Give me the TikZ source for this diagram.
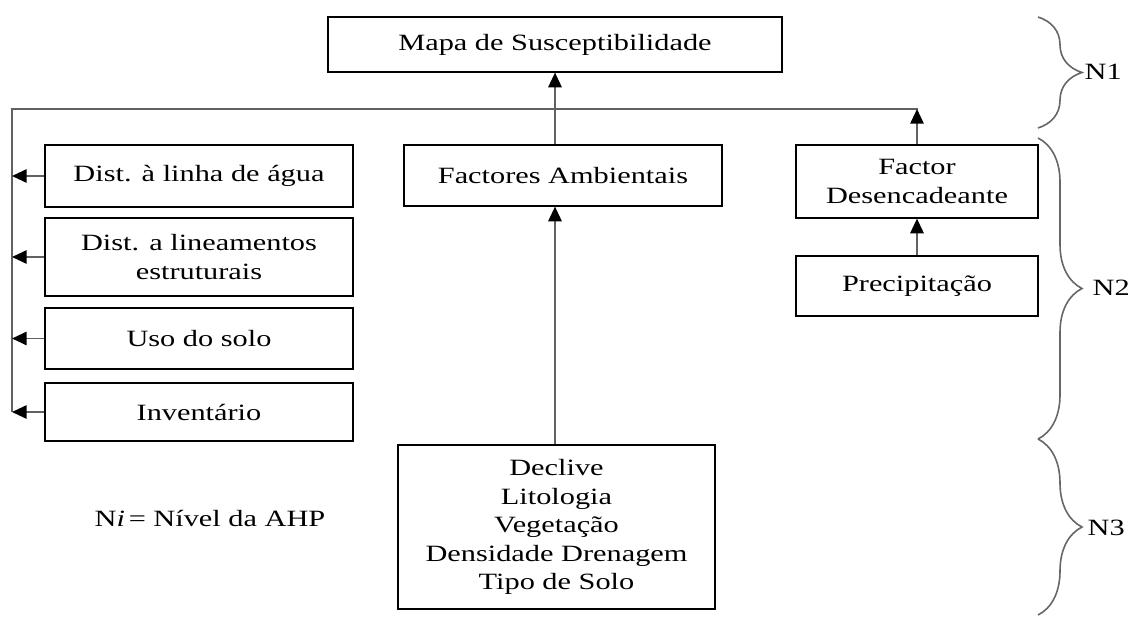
\documentclass[tikz,border=0pt]{standalone}
\usepackage{fontspec}
\setmainfont{Liberation Serif}[FakeStretch=1.3]
\usetikzlibrary{arrows.meta,decorations.pathreplacing}

\begin{document}
\begin{tikzpicture}[x=0.75pt, y=-0.75pt,
  font=\fontsize{17.5}{21.4}\selectfont,
  box/.style={draw, line width=0.9pt, inner sep=0pt, align=center},
  conn/.style={draw=black!62, line width=1.4pt, -{Triangle[length=11pt,width=10pt,color=black]}},
  bus/.style={draw=black!62, line width=1.4pt},
  brace/.style={draw=black!60, line width=1.2pt, decorate, decoration={brace, amplitude=33pt}}]
\useasboundingbox (0,0) rectangle (1132,617);

% level 1
\node[box, minimum width=340.5pt, minimum height=41.25pt] (mapa) at (555,44.5) {Mapa de Susceptibilidade};

% level 2
\node[box, minimum width=238.5pt, minimum height=45.75pt] (fact_amb) at (563,175.5) {Factores Ambientais};
\node[box, minimum width=181.5pt, minimum height=54.75pt] (fact_des) at (917,181.5) {Factor\\Desencadeante};
\node[box, minimum width=181.5pt, minimum height=45pt] (precip) at (917,286) {Precipitação};

\node[box, minimum width=231pt, minimum height=46.5pt] (dist_agua) at (199,176) {Dist. à linha de água};
\node[box, minimum width=231pt, minimum height=58.5pt] (dist_lin) at (199,257) {Dist. a lineamentos\\estruturais};
\node[box, minimum width=231pt, minimum height=45.75pt] (uso) at (199,338.5) {Uso do solo};
\node[box, minimum width=231pt, minimum height=43.5pt] (invent) at (199,412) {Inventário};

% level 3
\node[box, minimum width=237.75pt, minimum height=123pt] (declive) at (556.5,527)
  {Declive\\Litologia\\Vegetação\\Densidade Drenagem\\Tipo de Solo};

\node (legenda) at (210,518) {N\textit{i}\,= Nível da AHP};

% connectors
\coordinate (bus_l) at (12,109);
\coordinate (bus_r) at (918,109);
\draw[bus] (bus_r) -- (bus_l) -- (bus_l |- invent.west);
\foreach \n in {dist_agua,dist_lin,uso,invent}
  \draw[conn] (\n.west) -- (\n.west -| bus_l);
\draw[conn] (fact_des.north) -- (fact_des.north |- bus_r);
\draw[conn] (precip.north) -- (fact_des.south);
\draw[conn] (fact_amb.north -| mapa.south) -- (mapa.south);
\draw[conn] (declive.north -| mapa.south) -- (fact_amb.south -| mapa.south);

% levels
\draw[brace] (1038,17) -- (1038,128);
\draw[brace] (1038,138) -- (1038,439);
\draw[brace] (1038,439) -- (1038,615);
\node[anchor=west, inner sep=1pt] (n1) at (1083,72) {N1};
\node[anchor=west, inner sep=1pt] (n2) at (1091,288) {N2};
\node[anchor=west, inner sep=1pt] (n3) at (1086,528) {N3};
\end{tikzpicture}
\end{document}
